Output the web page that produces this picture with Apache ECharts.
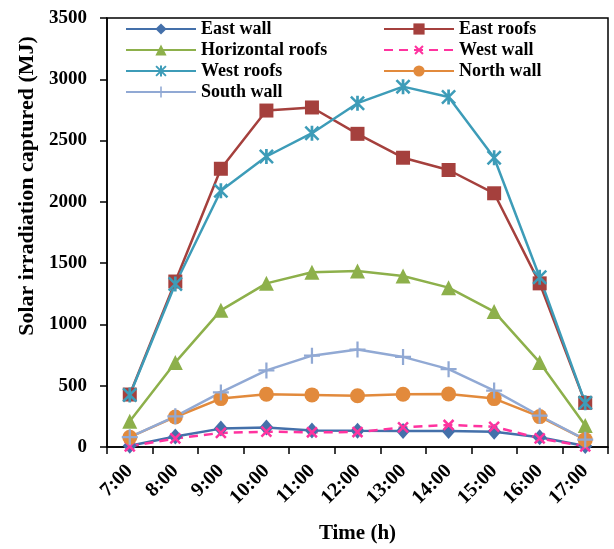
<!DOCTYPE html>
<html>
<head>
<meta charset="utf-8">
<script src="https://cdn.jsdelivr.net/npm/echarts@6/dist/echarts.min.js"></script>
<style>
  html, body { margin: 0; padding: 0; background: #fff; }
  #chart { width: 614px; height: 549px; }
</style>
</head>
<body>
<div id="chart"></div>
<script>
// Hourly solar irradiation captured by each building surface (MJ)
var hours = ['7:00', '8:00', '9:00', '10:00', '11:00', '12:00', '13:00', '14:00', '15:00', '16:00', '17:00'];
var eastWall        = [10, 85, 150, 160, 135, 132, 130, 130, 125, 80, 8];
var eastRoofs       = [428, 1350, 2270, 2745, 2770, 2555, 2360, 2260, 2070, 1335, 360];
var horizontalRoofs = [210, 690, 1115, 1335, 1425, 1435, 1395, 1300, 1105, 690, 175];
var westWall        = [5, 70, 115, 125, 120, 122, 160, 180, 165, 70, 5];
var westRoofs       = [425, 1330, 2090, 2370, 2560, 2805, 2940, 2855, 2360, 1385, 360];
var northWall       = [80, 245, 395, 430, 425, 418, 430, 432, 395, 248, 60];
var southWall       = [80, 250, 445, 625, 745, 795, 735, 635, 460, 255, 60];
var yTicks = { min: 0, max: 3500, step: 500 };

// Marker shapes: thin plus, bold plus (turned 45° into an x) and asterisk
var plusPath = 'path://M4.3,0L5.7,0L5.7,10L4.3,10Z M0,4.3L10,4.3L10,5.7L0,5.7Z';
var boldPlusPath = 'path://M4.1,0L5.9,0L5.9,10L4.1,10Z M0,4.1L10,4.1L10,5.9L0,5.9Z';
var starPath = 'path://M0,1.2L1.2,0L10,8.8L8.8,10Z M8.8,0L10,1.2L1.2,10L0,8.8Z M4.1,0L5.9,0L5.9,10L4.1,10Z';

var serif = '"Liberation Serif", "Times New Roman", serif';

function line(name, data, color, symbol, size, extra) {
  var s = {
    name: name,
    type: 'line',
    data: data,
    symbol: symbol,
    symbolSize: size,
    showAllSymbol: true,
    lineStyle: { color: color, width: 2.5 },
    itemStyle: { color: color },
    emphasis: { disabled: true },
    animation: false
  };
  if (extra) {
    for (var k in extra) s[k] = extra[k];
  }
  return s;
}

var series = [
  line('East wall', eastWall, '#4470AA', 'diamond', [14, 16]),
  line('East roofs', eastRoofs, '#A5403D', 'rect', 14),
  line('Horizontal roofs', horizontalRoofs, '#8DB04B', 'triangle', 15),
  line('West wall', westWall, '#FF339F', boldPlusPath, 14, {
    symbolRotate: 45,
    lineStyle: { color: '#FF339F', width: 2.5, type: [9, 6] }
  }),
  line('West roofs', westRoofs, '#3D9CB8', starPath, 15),
  line('North wall', northWall, '#E28A3C', 'circle', 15),
  line('South wall', southWall, '#91A9D4', plusPath, 16)
];

var legendText = { fontFamily: serif, fontWeight: 'bold', fontSize: 18, color: '#000', lineHeight: 18 };

var option = {
  backgroundColor: '#fff',
  animation: false,
  grid: {
    left: 107, right: 6, top: 18, bottom: 96,
    show: true, borderColor: '#000', borderWidth: 1.5, backgroundColor: 'transparent'
  },
  legend: [
    {
      data: ['East wall', 'Horizontal roofs', 'West roofs', 'South wall'],
      orient: 'vertical', left: 120, top: 15,
      itemWidth: 70, itemHeight: 14, itemGap: 3,
      textStyle: legendText
    },
    {
      data: ['East roofs', 'West wall', 'North wall'],
      orient: 'vertical', left: 378, top: 15,
      itemWidth: 70, itemHeight: 14, itemGap: 3,
      textStyle: legendText
    }
  ],
  xAxis: {
    type: 'category',
    data: hours,
    boundaryGap: true,
    name: 'Time (h)',
    nameLocation: 'middle',
    nameGap: 76,
    nameTextStyle: { fontFamily: serif, fontWeight: 'bold', fontSize: 21, color: '#000' },
    axisLine: { lineStyle: { color: '#000', width: 1.5 } },
    axisTick: { show: true, length: 7, lineStyle: { color: '#000', width: 1.5 } },
    axisLabel: {
      rotate: 45, margin: 21, color: '#000',
      fontFamily: serif, fontWeight: 'bold', fontSize: 20
    },
    splitLine: { show: false }
  },
  yAxis: {
    type: 'value',
    min: yTicks.min, max: yTicks.max, interval: yTicks.step,
    name: 'Solar irradiation captured (MJ)',
    nameLocation: 'middle',
    nameGap: 59,
    nameRotate: 90,
    nameTextStyle: {
      fontFamily: serif, fontWeight: 'bold', fontSize: 22, color: '#000',
      padding: [0, 0, 0, 93]
    },
    axisLine: { show: true, lineStyle: { color: '#000', width: 1.5 } },
    axisTick: { show: true, length: 7, lineStyle: { color: '#000', width: 1.5 } },
    axisLabel: {
      margin: 20, color: '#000',
      fontFamily: serif, fontWeight: 'bold', fontSize: 19,
      formatter: function (v) { return String(v); }
    },
    splitLine: { show: false }
  },
  series: series
};

var chart = echarts.init(document.getElementById('chart'), null, { renderer: 'canvas' });
chart.setOption(option);
</script>
</body>
</html>
